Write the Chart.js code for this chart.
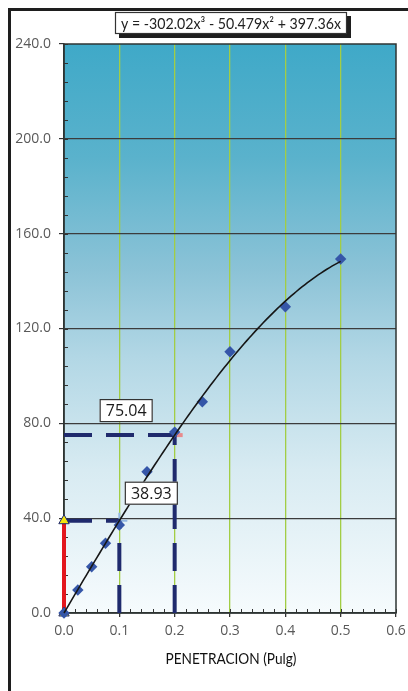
<!DOCTYPE html>
<html>
<head>
<meta charset="utf-8">
<script src="https://cdn.jsdelivr.net/npm/chart.js@4/dist/chart.umd.min.js"></script>
<style>
  html, body { margin: 0; padding: 0; background: #fff; }
  #wrap { position: relative; width: 408px; height: 691px; }
</style>
</head>
<body>
<div id="wrap"><canvas id="c" width="408" height="691"></canvas></div>
<script>
// Measured load vs. penetration
const penetration = [0, 0.025, 0.05, 0.075, 0.1, 0.15, 0.2, 0.25, 0.3, 0.4, 0.5];
const load = [0, 9.7, 19.5, 29.4, 37.1, 59.6, 76.3, 89.1, 110.2, 129.2, 149.3];

// Cubic trend line coefficients: x^3, x^2, x
const trendCoefficients = [-302.02, -50.479, 397.36];
const trendRange = [0, 0.5];

// Read-off points on the trend line
const readX = [0.1, 0.2];
const readY = [38.93, 75.04];

// Axis ticks
const xTicks = [0, 0.1, 0.2, 0.3, 0.4, 0.5, 0.6];
const yTicks = [0, 40, 80, 120, 160, 200, 240];
const xMinorStep = 0.02;
const yMinorStep = 8;

const equationText = 'y = -302.02x³ - 50.479x² + 397.36x';
const xTitle = 'PENETRACION (Pulg)';

const FONT = '"Open Sans", "DejaVu Sans", sans-serif';
const FONT2 = 'Lato, "Open Sans", sans-serif';

function trend(x) {
  const [a, b, c] = trendCoefficients;
  return a * x * x * x + b * x * x + c * x;
}
const trendPoints = [];
for (let i = 0; i <= 100; i++) {
  const x = trendRange[0] + (trendRange[1] - trendRange[0]) * i / 100;
  trendPoints.push({ x, y: trend(x) });
}

const measured = penetration.map((x, i) => ({ x, y: load[i] }));
const navy = '#1f2a6d';

const datasets = [
  { // fitted curve
    data: trendPoints, showLine: true, borderColor: '#161616', borderWidth: 1.6,
    pointRadius: 0, order: 0, clip: false
  },
  { // read-off markers on the y axis
    data: [{ x: 0, y: readY[0] }, { x: 0, y: 0 }], showLine: false,
    pointStyle: 'triangle', pointRadius: 6, backgroundColor: '#f3e40e',
    borderColor: navy, borderWidth: 1, order: 2, clip: false
  },
  { // measured points
    data: measured, showLine: false, pointStyle: 'rectRot', pointRadius: 5.7,
    backgroundColor: '#3556a8', borderWidth: 0, order: 1, clip: false
  },
  { // horizontal read-off at 0.2
    data: [{ x: 0, y: readY[1] }, { x: readX[1], y: readY[1] }], showLine: true,
    borderColor: navy, borderWidth: 4, borderDash: [28, 14], pointRadius: 0, order: 3, clip: false
  },
  { // vertical read-off at 0.2
    data: [{ x: readX[1], y: 0 }, { x: readX[1], y: readY[1] }], showLine: true,
    borderColor: navy, borderWidth: 4, borderDash: [28, 14], pointRadius: 0, order: 3, clip: false
  },
  { // horizontal read-off at 0.1
    data: [{ x: 0, y: readY[0] }, { x: readX[0], y: readY[0] }], showLine: true,
    borderColor: navy, borderWidth: 4, borderDash: [28, 14], pointRadius: 0, order: 3, clip: false
  },
  { // vertical read-off at 0.1
    data: [{ x: readX[0], y: 0 }, { x: readX[0], y: readY[0] }], showLine: true,
    borderColor: navy, borderWidth: 4, borderDash: [28, 14], pointRadius: 0, order: 3, clip: false
  },
  { // red span on the y axis
    data: [{ x: 0, y: 0 }, { x: 0, y: readY[0] }], showLine: true,
    borderColor: '#e3171e', borderWidth: 4, pointRadius: 0, order: 4, clip: false
  },
  { // cross at the 0.1 read-off
    data: [{ x: readX[0], y: readY[0] }], showLine: false, pointStyle: 'cross',
    pointRadius: 8, borderColor: '#94b8e2', borderWidth: 2, order: 5, clip: false
  },
  { // tick at the 0.2 read-off
    data: [{ x: readX[1], y: readY[1] }], showLine: false, pointStyle: 'line',
    pointRadius: 8, borderColor: '#e88a8c', borderWidth: 4, order: 6, clip: false
  }
];

function labelBox(ctx, x, y, w, h) {
  ctx.fillStyle = '#fff';
  ctx.fillRect(x, y, w, h);
  ctx.strokeStyle = '#333';
  ctx.lineWidth = 1.2;
  ctx.strokeRect(x + 0.5, y + 0.5, w - 1, h - 1);
}

// draws centred text narrowed horizontally to a target width
function fitText(ctx, text, cx, cy, targetWidth) {
  const w = ctx.measureText(text).width;
  const k = Math.min(1, targetWidth / w);
  ctx.save();
  ctx.translate(cx, cy);
  ctx.scale(k, 1);
  ctx.fillText(text, 0, 0);
  ctx.restore();
}

const decorations = {
  id: 'decorations',
  beforeDraw(chart) {
    const { ctx, chartArea: a, width, height } = chart;
    ctx.save();
    ctx.fillStyle = '#fff';
    ctx.fillRect(0, 0, width, height);
    // page frame
    ctx.strokeStyle = '#1e1e1e';
    ctx.lineWidth = 3;
    ctx.beginPath();
    ctx.moveTo(9.5, height);
    ctx.lineTo(9.5, 9.5);
    ctx.lineTo(width, 9.5);
    ctx.stroke();
    // plot background
    const g = ctx.createLinearGradient(0, a.top, 0, a.bottom);
    g.addColorStop(0, '#3fa9c8');
    g.addColorStop(0.2, '#5ab2cc');
    g.addColorStop(0.4, '#8cc3d7');
    g.addColorStop(0.55, '#b2d7e5');
    g.addColorStop(0.75, '#d8ebf2');
    g.addColorStop(1, '#f6fbfd');
    ctx.fillStyle = g;
    ctx.fillRect(a.left, a.top, a.right - a.left, a.bottom - a.top);
    ctx.restore();
  },
  beforeDatasetsDraw(chart) {
    const { ctx, chartArea: a, scales } = chart;
    const xs = scales.x, ys = scales.y;
    ctx.save();
    ctx.strokeStyle = '#333';
    ctx.lineWidth = 1;
    ctx.beginPath();
    for (let v = 0; v <= ys.max + 1e-9; v += yMinorStep) {
      const y = Math.round(ys.getPixelForValue(v)) + 0.5;
      ctx.moveTo(a.left, y);
      ctx.lineTo(a.left + 4, y);
    }
    for (let i = 0; i * xMinorStep <= xs.max + 1e-9; i++) {
      const x = Math.round(xs.getPixelForValue(i * xMinorStep)) + 0.5;
      ctx.moveTo(x, a.bottom);
      ctx.lineTo(x, a.bottom - 4);
    }
    ctx.stroke();
    // plot frame
    ctx.strokeStyle = '#2e3433';
    ctx.lineWidth = 1.5;
    ctx.strokeRect(a.left, a.top, a.right - a.left, a.bottom - a.top);
    ctx.restore();
  },
  afterDraw(chart) {
    const { ctx, chartArea: a, scales } = chart;
    const xs = scales.x, ys = scales.y;
    ctx.save();
    ctx.textAlign = 'center';
    ctx.textBaseline = 'middle';
    // equation box with shadow
    const ex = a.left + 51, ey = 12, ew = 232, eh = 22;
    ctx.fillStyle = '#1e1e1e';
    ctx.fillRect(ex + 4, ey + 4, ew, eh);
    labelBox(ctx, ex, ey, ew, eh);
    ctx.fillStyle = '#222';
    ctx.font = '15px ' + FONT2;
    fitText(ctx, equationText, ex + ew / 2, ey + eh / 2 + 1, 220);

    // read-off value labels
    const labels = [
      { i: 1, dx: -48.5, dy: -13 },
      { i: 0, dx: 32, dy: -16 }
    ];
    ctx.font = '16px ' + FONT;
    labels.forEach(l => {
      const px = xs.getPixelForValue(readX[l.i]) + l.dx;
      const py = ys.getPixelForValue(readY[l.i]) + l.dy;
      const w = 53, h = 23;
      labelBox(ctx, px - w / 2, py - h, w, h);
      ctx.fillStyle = '#1a1a1a';
      ctx.fillText(readY[l.i].toFixed(2), px, py - h / 2 + 1);
    });

    // x axis title
    ctx.font = '16px ' + FONT2;
    ctx.fillStyle = '#111';
    fitText(ctx, xTitle, (a.left + a.right) / 2 + 1, 659, 131);
    ctx.restore();
  }
};

new Chart(document.getElementById('c'), {
  type: 'scatter',
  data: { datasets },
  options: {
    responsive: false,
    animation: false,
    devicePixelRatio: 1,
    layout: { padding: { top: 44, right: 12, bottom: 0, left: 0 } },
    plugins: { legend: { display: false }, tooltip: { enabled: false } },
    scales: {
      x: {
        type: 'linear', min: 0, max: 0.6,
        afterBuildTicks: s => { s.ticks = xTicks.map(v => ({ value: v })); },
        afterFit: s => { s.height = 78; s.paddingLeft = 0; s.paddingRight = 0; },
        ticks: {
          callback: v => Number(v).toFixed(1), color: '#595959',
          font: { family: FONT, size: 14 }, padding: 6, maxRotation: 0
        },
        grid: {
          color: c => (c.tick && c.tick.value > 0 && c.tick.value < 0.6) ? '#a2cd45' : 'rgba(0,0,0,0)',
          lineWidth: 1.3, tickLength: 4, tickColor: '#333'
        },
        border: { display: true, color: '#2e3433', width: 1.5 }
      },
      y: {
        type: 'linear', min: 0, max: 240,
        afterBuildTicks: s => { s.ticks = yTicks.map(v => ({ value: v })); },
        afterFit: s => { s.width = 64; s.paddingTop = 0; s.paddingBottom = 0; },
        ticks: {
          callback: v => Number(v).toFixed(1), color: '#595959',
          font: { family: FONT, size: 14 }, padding: 8
        },
        grid: {
          color: c => (c.tick && c.tick.value > 0 && c.tick.value < 240) ? '#3c3c3c' : 'rgba(0,0,0,0)',
          lineWidth: 1.2, tickLength: 5, tickColor: '#333'
        },
        border: { display: true, color: '#2e3433', width: 1.5 }
      }
    }
  },
  plugins: [decorations]
});
</script>
</body>
</html>
